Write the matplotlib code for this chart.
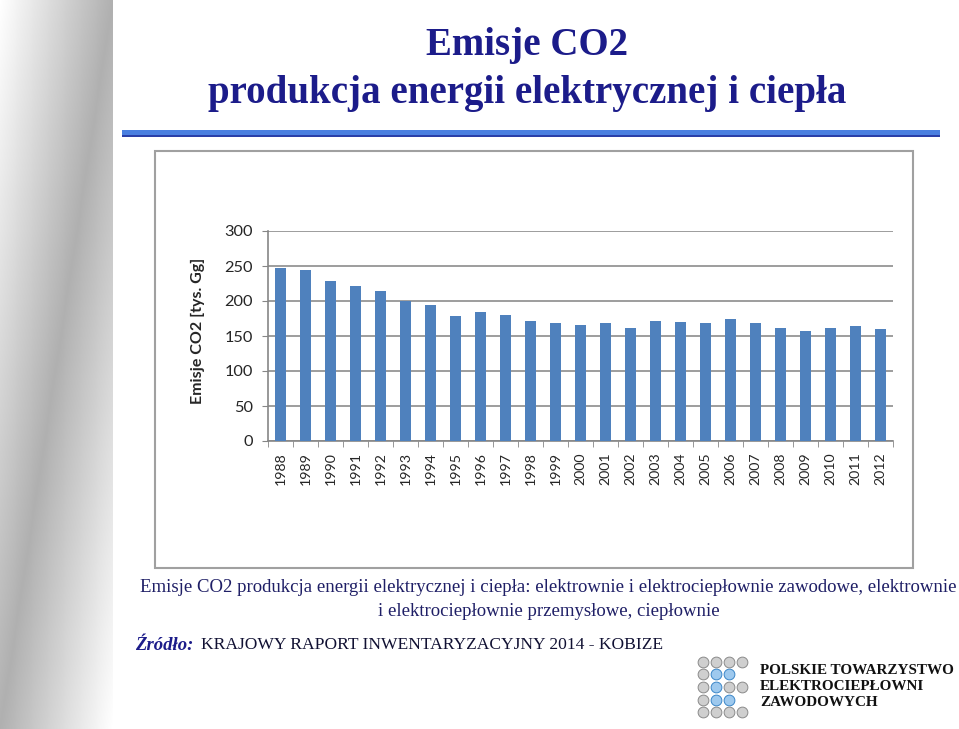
import numpy as np
import matplotlib.pyplot as plt
from matplotlib.patches import Rectangle

years = [str(y) for y in range(1988, 2013)]
emisje = [247, 244, 228, 222, 214, 200, 195, 178, 184, 180, 172, 168, 166,
          168, 162, 172, 170, 168, 174, 168, 162, 157, 162, 164, 160]
y_ticks = [0, 50, 100, 150, 200, 250, 300]

navy = '#1c1c8a'
W, H = 959, 729
fig = plt.figure(figsize=(W / 100, H / 100), dpi=100, facecolor='white')

# szary gradient po lewej (ukosny pas)
bg = fig.add_axes([0, 0, 113 / W, 1])
gx, gy = np.meshgrid(np.linspace(0, 1, 120), np.linspace(0, 1, 300))
d = np.abs(gx - (1 - gy))
bg.imshow(np.clip(0.69 + 0.31 * d, 0, 1), cmap='gray', vmin=0, vmax=1, aspect='auto',
          extent=[0, 1, 0, 1], origin='upper')
bg.axis('off')

# tytul
fig.text(527 / W, 1 - 45 / H, 'Emisje CO2', ha='center', va='center',
         family='Liberation Serif', weight='bold', fontsize=28, color=navy)
fig.text(527 / W, 1 - 93 / H, 'produkcja energii elektrycznej i ciepła', ha='center',
         va='center', family='Liberation Serif', weight='bold', fontsize=28, color=navy)

# niebieska linia pod tytulem
fig.patches.append(Rectangle((122 / W, 1 - 137 / H), 818 / W, 7 / H, transform=fig.transFigure,
                             facecolor='#4a7fe0', edgecolor='none'))
fig.patches.append(Rectangle((122 / W, 1 - 137 / H), 818 / W, 2 / H, transform=fig.transFigure,
                             facecolor='#2a3fa8', edgecolor='none'))

# ramka wykresu
fig.patches.append(Rectangle((155 / W, 1 - 568 / H), 758 / W, 417 / H, transform=fig.transFigure,
                             facecolor='white', edgecolor='#a0a0a0', linewidth=1.5, zorder=-1))

ax = fig.add_axes([268 / W, 1 - 441 / H, 625 / W, 210 / H])
ax.set_zorder(2)
ax.patch.set_alpha(0)
x = np.arange(len(years))
ax.bar(x, emisje, width=0.42, color='#4f81bd', zorder=3)
ax.set_xlim(-0.5, len(years) - 0.5)
ax.set_ylim(0, 300)
ax.set_yticks(y_ticks)
ax.set_yticklabels([str(v) for v in y_ticks], family='Lato', fontsize=11.8, color='#262626')
ax.set_xticks(x)
ax.set_xticklabels(years, rotation=90, family='Lato', fontsize=10.2, color='#262626')
ax.set_xticks(np.arange(-0.5, len(years)), minor=True)
ax.tick_params(axis='x', which='major', length=0, pad=8)
ax.tick_params(axis='x', which='minor', length=4, color='#868686')
ax.tick_params(axis='y', length=4, color='#868686', pad=7)
ax.grid(axis='y', color='#8c8c8c', linewidth=1.2, zorder=0)
for s in ['top', 'right']:
    ax.spines[s].set_visible(False)
for s in ['left', 'bottom']:
    ax.spines[s].set_color('#868686')
    ax.spines[s].set_linewidth(1.2)
ax.set_ylabel('Emisje CO2 [tys. Gg]', family='Lato', weight='bold', fontsize=11.5,
              color='#262626', va='center')
ax.yaxis.set_label_coords(-0.112, 0.525)

# podpis
fig.text(140 / W, 1 - 587 / H,
         'Emisje CO2 produkcja energii elektrycznej i ciepła: elektrownie i elektrociepłownie zawodowe, elektrownie',
         ha='left', va='center', family='Liberation Serif', fontsize=13.5, color='#1f1f66')
fig.text(549 / W, 1 - 611 / H, 'i elektrociepłownie przemysłowe, ciepłownie',
         ha='center', va='center', family='Liberation Serif', fontsize=13.5, color='#1f1f66')

fig.text(135 / W, 1 - 645 / H, 'Źródło:', ha='left', va='center', family='Liberation Serif',
         weight='bold', style='italic', fontsize=13.5, color=navy)
fig.text(201 / W, 1 - 645 / H, 'KRAJOWY RAPORT INWENTARYZACYJNY 2014 - KOBIZE', ha='left',
         va='center', family='Liberation Serif', fontsize=12.6, color='#111133')

# logo
lg = fig.add_axes([695 / W, 1 - 720 / H, 55 / W, 66 / H])
rows = [['g', 'g', 'g', 'g'], ['g', 'b', 'b'], ['g', 'b', 'g', 'g'], ['g', 'b', 'b'], ['g', 'g', 'g', 'g']]
for r, row in enumerate(rows):
    for c, k in enumerate(row):
        col = '#9ec9ee' if k == 'b' else '#cfcfcf'
        edge = '#3a86c8' if k == 'b' else '#8a8a8a'
        lg.scatter(c, -r, s=60, color=col, edgecolors=edge, linewidths=0.7)
lg.set_xlim(-0.6, 3.6)
lg.set_ylim(-4.6, 0.6)
lg.axis('off')
for i, line in enumerate(['POLSKIE TOWARZYSTWO', 'ELEKTROCIEPŁOWNI', 'ZAWODOWYCH']):
    fig.text(760 / W, 1 - (670 + 16.5 * i) / H, line, ha='left', va='center',
             family='Liberation Serif', weight='bold', fontsize=10.9, color='#111111')

fig.savefig('out.png', dpi=100)
